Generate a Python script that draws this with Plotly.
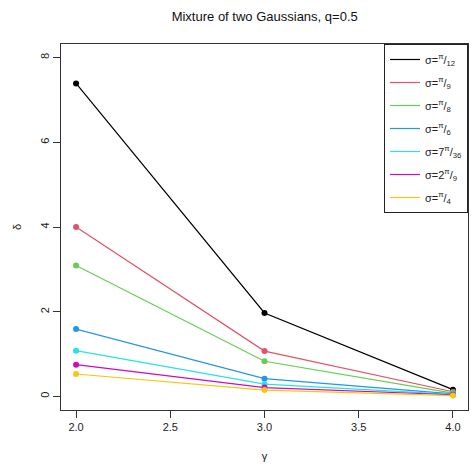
import plotly.graph_objects as go

gamma = [2.0, 3.0, 4.0]
labels = ["σ=<sup>π</sup>/<sub>12</sub>", "σ=<sup>π</sup>/<sub>9</sub>", "σ=<sup>π</sup>/<sub>8</sub>",
          "σ=<sup>π</sup>/<sub>6</sub>", "σ=7<sup>π</sup>/<sub>36</sub>", "σ=2<sup>π</sup>/<sub>9</sub>",
          "σ=<sup>π</sup>/<sub>4</sub>"]
s_pi12 = [7.39, 1.97, 0.16]
s_pi9 = [4.00, 1.07, 0.11]
s_pi8 = [3.09, 0.83, 0.08]
s_pi6 = [1.59, 0.42, 0.06]
s_7pi36 = [1.08, 0.29, 0.05]
s_2pi9 = [0.75, 0.21, 0.04]
s_pi4 = [0.53, 0.15, 0.02]
series = [s_pi12, s_pi9, s_pi8, s_pi6, s_7pi36, s_2pi9, s_pi4]
colors = ["#000000", "#DF536B", "#61D04F", "#2297E6", "#28E2E5", "#CD0BBC", "#F5C710"]

fig = go.Figure()
for i, (lab, vals, col) in enumerate(zip(labels, series, colors)):
    fig.add_trace(go.Scatter(
        x=gamma, y=vals, name=lab, mode="lines",
        line=dict(color=col, width=1.2), legendgroup=f"g{i}",
    ))
    fig.add_trace(go.Scatter(
        x=gamma, y=vals, name=lab, mode="markers",
        marker=dict(color=col, size=6), legendgroup=f"g{i}", showlegend=False,
    ))

font = "Liberation Sans, Arial, sans-serif"
fig.update_layout(
    width=471, height=465,
    margin=dict(l=61, r=3, t=44, b=55),
    paper_bgcolor="white", plot_bgcolor="white",
    font=dict(family=font, size=11, color="#222"),
    title=dict(text="Mixture of two Gaussians, q=0.5", x=0.562, xanchor="center",
               y=0.965, yanchor="middle", font=dict(size=13, color="#111")),
    showlegend=True,
    legend=dict(x=1, xanchor="right", y=1, yanchor="top", bgcolor="white",
                bordercolor="#222", borderwidth=1, font=dict(size=11),
                itemwidth=30, tracegroupgap=4, traceorder="grouped"),
    xaxis=dict(range=[1.92, 4.08], tickvals=[2.0, 2.5, 3.0, 3.5, 4.0],
               ticktext=["2.0", "2.5", "3.0", "3.5", "4.0"],
               showline=True, mirror=True, linecolor="#333", linewidth=1,
               ticks="outside", ticklen=7, tickcolor="#333", showgrid=False, zeroline=False,
               title=dict(text="γ", standoff=20, font=dict(size=11))),
    yaxis=dict(range=[-0.32, 8.32], tickvals=[0, 2, 4, 6, 8], tickangle=-90,
               showline=True, mirror=True, linecolor="#333", linewidth=1,
               ticks="outside", ticklen=7, tickcolor="#333", showgrid=False, zeroline=False,
               title=dict(text="δ", standoff=14, font=dict(size=11))),
)
fig.write_html("out.html", config={"displayModeBar": False},
               post_script="document.body.style.margin='0';document.body.style.overflow='hidden';")
